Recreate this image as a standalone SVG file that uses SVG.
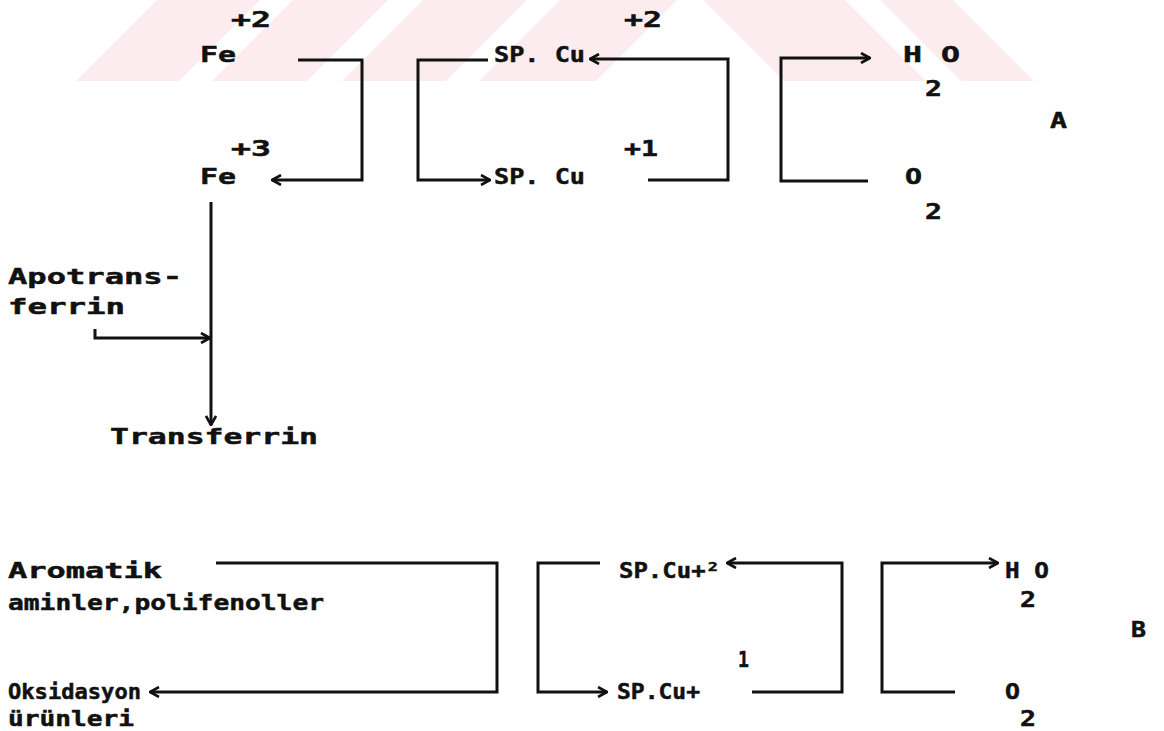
<svg xmlns="http://www.w3.org/2000/svg" width="1164" height="731" viewBox="0 0 1164 731">
  <style>
    .t { font-family: "DejaVu Sans Mono", "Liberation Mono", monospace; font-weight: bold; font-size: 22px; fill: #111; stroke: #111; stroke-width: 0.5; }
    .c { fill: none; stroke: #111; stroke-width: 3; stroke-linejoin: miter; stroke-linecap: butt; }
    .wm { fill: #fdecef; }
  </style>
  <defs>
    <marker id="arrow" viewBox="0 0 12 12" refX="11" refY="6" markerWidth="12" markerHeight="12" markerUnits="userSpaceOnUse" orient="auto">
      <path d="M2,1 L11,6 L2,11" fill="none" stroke="#111" stroke-width="2.6"/>
    </marker>
  </defs>
  <rect width="1164" height="731" fill="#ffffff"/>

  <!-- faint striped band along the top edge -->
  <g id="band">
    <polygon class="wm" points="157,0 260,0 179,81 76,81"/>
    <polygon class="wm" points="293,0 388,0 307,81 212,81"/>
    <polygon class="wm" points="423,0 527,0 446,81 342,81"/>
    <polygon class="wm" points="560,0 677,0 596,81 479,81"/>
    <polygon class="wm" points="703,0 845,0 926,81 784,81"/>
    <polygon class="wm" points="880,0 953,0 1034,81 961,81"/>
  </g>

  <!-- connectors -->
  <g id="connectors">
    <!-- scheme A -->
    <path class="c" d="M298,60 H362 V180 H272" marker-end="url(#arrow)"/>
    <path class="c" d="M488,60 H418 V180 H490" marker-end="url(#arrow)"/>
    <path class="c" d="M648,180 H728 V59 H590" marker-end="url(#arrow)"/>
    <path class="c" d="M868,181 H781 V58 H870" marker-end="url(#arrow)"/>
    <path class="c" d="M211,202 V425" marker-end="url(#arrow)"/>
    <path class="c" d="M95,329 V338 H210" marker-end="url(#arrow)"/>
    <!-- scheme B -->
    <path class="c" d="M216,563 H497 V692 H150" marker-end="url(#arrow)"/>
    <path class="c" d="M600,563 H538 V692 H607" marker-end="url(#arrow)"/>
    <path class="c" d="M752,692 H842 V563 H727" marker-end="url(#arrow)"/>
    <path class="c" d="M955,692 H882 V563 H998" marker-end="url(#arrow)"/>
  </g>

  <!-- scheme A nodes -->
  <g id="fe2">
    <text class="t" x="231" y="27" textLength="40" lengthAdjust="spacingAndGlyphs">+2</text>
    <text class="t" x="200" y="62" textLength="36" lengthAdjust="spacingAndGlyphs">Fe</text>
  </g>
  <g id="fe3">
    <text class="t" x="231" y="156" textLength="40" lengthAdjust="spacingAndGlyphs">+3</text>
    <text class="t" x="200" y="184" textLength="36" lengthAdjust="spacingAndGlyphs">Fe</text>
  </g>
  <g id="spcu2-a">
    <text class="t" x="624" y="27" textLength="38" lengthAdjust="spacingAndGlyphs">+2</text>
    <text class="t" x="494" y="62" textLength="91" lengthAdjust="spacingAndGlyphs">SP. Cu</text>
  </g>
  <g id="spcu1-a">
    <text class="t" x="624" y="156" textLength="34" lengthAdjust="spacingAndGlyphs">+1</text>
    <text class="t" x="494" y="184" textLength="91" lengthAdjust="spacingAndGlyphs">SP. Cu</text>
  </g>
  <g id="h2o-a">
    <text class="t" x="903" y="62" textLength="57" lengthAdjust="spacingAndGlyphs">H O</text>
    <text class="t" x="925" y="96" textLength="17" lengthAdjust="spacingAndGlyphs">2</text>
  </g>
  <g id="o2-a">
    <text class="t" x="905" y="184" textLength="17" lengthAdjust="spacingAndGlyphs">O</text>
    <text class="t" x="925" y="219" textLength="17" lengthAdjust="spacingAndGlyphs">2</text>
  </g>
  <g id="label-a">
    <text class="t" x="1050" y="128" textLength="17" lengthAdjust="spacingAndGlyphs">A</text>
  </g>
  <g id="apotransferrin">
    <text class="t" x="8" y="284" textLength="174" lengthAdjust="spacingAndGlyphs">Apotrans-</text>
    <text class="t" x="8" y="314" textLength="117" lengthAdjust="spacingAndGlyphs">ferrin</text>
  </g>
  <g id="transferrin">
    <text class="t" x="110" y="444" textLength="208" lengthAdjust="spacingAndGlyphs">Transferrin</text>
  </g>

  <!-- scheme B nodes -->
  <g id="aromatik">
    <text class="t" x="8" y="578" textLength="154" lengthAdjust="spacingAndGlyphs">Aromatik</text>
    <text class="t" x="8" y="610" textLength="316" lengthAdjust="spacingAndGlyphs">aminler,polifenoller</text>
  </g>
  <g id="oksidasyon">
    <text class="t" x="8" y="699" textLength="133" lengthAdjust="spacingAndGlyphs">Oksidasyon</text>
    <text class="t" x="8" y="726" textLength="126" lengthAdjust="spacingAndGlyphs">ürünleri</text>
  </g>
  <g id="spcu2-b">
    <text class="t" x="619" y="578" textLength="101" lengthAdjust="spacingAndGlyphs">SP.Cu+²</text>
  </g>
  <g id="spcu1-b">
    <text class="t" x="738" y="667" textLength="11" lengthAdjust="spacingAndGlyphs">1</text>
    <text class="t" x="617" y="699" textLength="83" lengthAdjust="spacingAndGlyphs">SP.Cu+</text>
  </g>
  <g id="h2o-b">
    <text class="t" x="1005" y="578" textLength="44" lengthAdjust="spacingAndGlyphs">H O</text>
    <text class="t" x="1020" y="607" textLength="16" lengthAdjust="spacingAndGlyphs">2</text>
  </g>
  <g id="o2-b">
    <text class="t" x="1005" y="699" textLength="15" lengthAdjust="spacingAndGlyphs">O</text>
    <text class="t" x="1020" y="726" textLength="16" lengthAdjust="spacingAndGlyphs">2</text>
  </g>
  <g id="label-b">
    <text class="t" x="1131" y="637" textLength="15" lengthAdjust="spacingAndGlyphs">B</text>
  </g>
</svg>
